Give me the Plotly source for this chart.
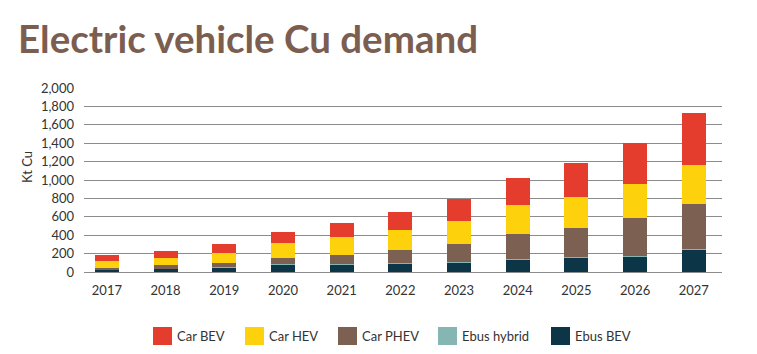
import plotly.graph_objects as go

years = ["2017", "2018", "2019", "2020", "2021", "2022", "2023", "2024", "2025", "2026", "2027"]
ebus_bev = [22, 33, 47, 80, 83, 93, 103, 136, 155, 165, 240]
ebus_hybrid = [4, 4, 4, 4, 5, 5, 6, 6, 7, 7, 8]
car_phev = [14, 36, 45, 65, 94, 138, 195, 268, 313, 412, 488]
car_hev = [76, 76, 107, 163, 196, 217, 247, 315, 337, 369, 424]
car_bev = [65, 76, 98, 119, 152, 197, 244, 293, 377, 453, 573]

series_names = ["Car BEV", "Car HEV", "Car PHEV", "Ebus hybrid", "Ebus BEV"]
series_colors = ["#E43D2E", "#FDD20C", "#7C6052", "#86B6B1", "#0D3548"]
y_ticks = [0, 200, 400, 600, 800, 1000, 1200, 1400, 1600, 1800, 2000]

fig = go.Figure()
stack = [("Ebus BEV", ebus_bev), ("Ebus hybrid", ebus_hybrid), ("Car PHEV", car_phev),
         ("Car HEV", car_hev), ("Car BEV", car_bev)]
for name, vals in stack:
    fig.add_trace(go.Bar(x=years, y=vals, name=name,
                         marker=dict(color=series_colors[series_names.index(name)], line=dict(width=0)),
                         width=0.41, showlegend=False))

L, R, T, B = 84, 35, 88, 82
W, H = 757, 354
pw, ph = W - L - R, H - T - B

def px2x(px):
    return (px - L) / pw

def py2y(py):
    return (H - B - py) / ph

fig.update_layout(
    width=W, height=H,
    margin=dict(l=L, r=R, t=T, b=B),
    barmode="stack",
    plot_bgcolor="white", paper_bgcolor="white",
    font=dict(family="Lato, DejaVu Sans, sans-serif", color="#333333", size=12),
    xaxis=dict(range=[-0.39, 10.48], showgrid=False, showline=False, ticks="",
               tickfont=dict(size=13, color="#333333"), ticklabelstandoff=9),
    yaxis=dict(range=[0, 2000], tickvals=y_ticks, ticktext=[f"{v:,}" for v in y_ticks],
               showgrid=True, gridcolor="#8c8c8c", gridwidth=1.3, zeroline=True,
               zerolinecolor="#8c8c8c", zerolinewidth=1.3, showline=False, ticks="",
               tickfont=dict(size=13, color="#333333"), ticklabelstandoff=9),
    showlegend=False,
)

fig.add_annotation(text="Electric vehicle Cu demand", xref="paper", yref="paper",
                   x=px2x(16), y=py2y(63), xanchor="left", yanchor="bottom", showarrow=False,
                   font=dict(family="Lato", size=38.5, color="#7B5E50", weight="bold"))
fig.add_annotation(text="Kt Cu", xref="paper", yref="paper", x=px2x(27), y=py2y(167),
                   textangle=-90, showarrow=False, xanchor="center", yanchor="middle",
                   font=dict(size=13, color="#333333"))

legend_x = [153, 245, 338, 438, 551]
for name, lx in zip(series_names, legend_x):
    col = series_colors[series_names.index(name)]
    fig.add_shape(type="rect", xref="paper", yref="paper",
                  x0=px2x(lx), x1=px2x(lx + 19), y0=py2y(345), y1=py2y(327),
                  fillcolor=col, line=dict(width=0))
    fig.add_annotation(text=name, xref="paper", yref="paper", x=px2x(lx + 22), y=py2y(336),
                       xanchor="left", yanchor="middle", showarrow=False,
                       font=dict(size=13, color="#333333"))

fig.write_html("out.html")
